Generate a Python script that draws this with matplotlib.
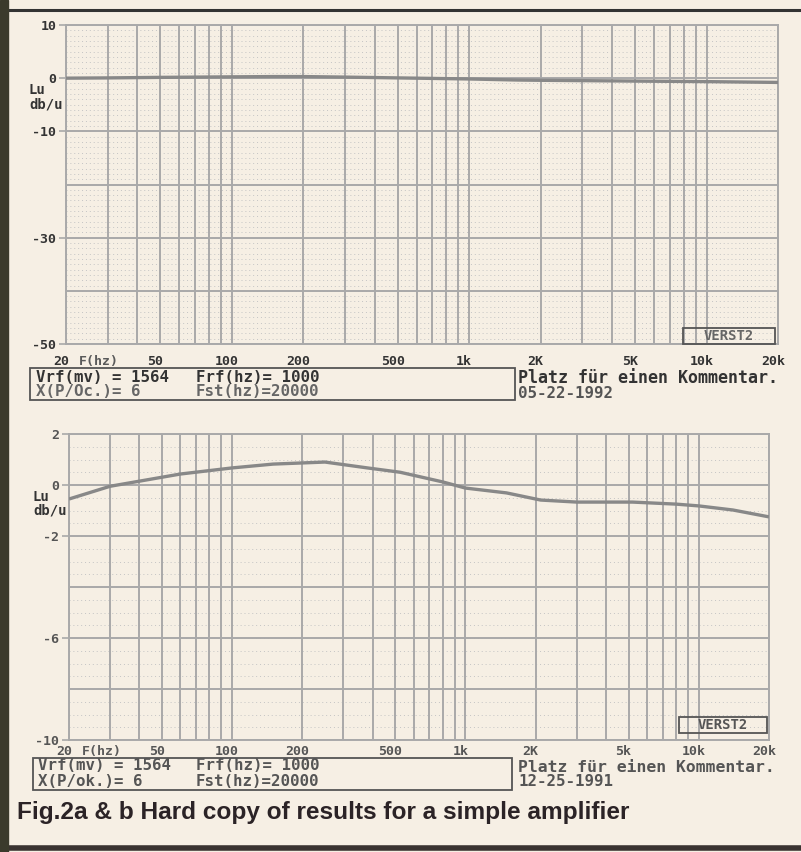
import matplotlib.pyplot as plt
from matplotlib.patches import Rectangle
import matplotlib.transforms as mtransforms

# upper plot (05-22-1992): level vs frequency, range +10..-50 dB
freq_a = [20, 30, 50, 100, 150, 200, 300, 500, 1000, 1600, 2000, 5000, 10000, 20000]
level_a = [0.0, 0.05, 0.15, 0.25, 0.3, 0.3, 0.2, 0.05, -0.15, -0.35, -0.4, -0.55, -0.65, -0.8]

# lower plot (12-25-1991): range +2..-10 dB
freq_b = [20, 30, 60, 100, 150, 250, 380, 525, 800, 1000, 1500, 2100, 3000, 5200, 8000, 10000, 14000, 20000]
level_b = [-0.55, -0.05, 0.43, 0.67, 0.82, 0.9, 0.67, 0.5, 0.12, -0.12, -0.31, -0.59, -0.67, -0.67, -0.75, -0.82, -0.98, -1.25]

xtick_freqs = [20, 50, 100, 200, 500, 1000, 2000, 5000, 10000, 20000]
xlabels_a = ['20', '50', '100', '200', '500', '1k', '2K', '5K', '10k', '20k']
xlabels_b = ['20', '50', '100', '200', '500', '1k', '2K', '5k', '10k', '20k']
ylim_a = (-50, 10)
ylim_b = (-10, 2)
yticks_a = [10, 0, -10, -30, -50]
yticks_b = [2, 0, -2, -6, -10]
ygrid_a = [10, 0, -10, -20, -30, -40, -50]
ygrid_b = [2, 0, -2, -4, -6, -8, -10]

info_a = ['Vrf(mv) = 1564', 'Frf(hz)= 1000', 'X(P/Oc.)= 6', 'Fst(hz)=20000']
info_b = ['Vrf(mv) = 1564', 'Frf(hz)= 1000', 'X(P/ok.)= 6', 'Fst(hz)=20000']
comment = 'Platz für einen Kommentar.'
date_a = '05-22-1992'
date_b = '12-25-1991'
caption = 'Fig.2a & b Hard copy of results for a simple amplifier'

W, H = 801, 852
paper = '#f6efe4'
grid_c = '#a9a9a9'
ink = '#333333'
mono = ['DejaVu Sans Mono']

fig = plt.figure(figsize=(W / 100, H / 100), dpi=100, facecolor=paper)


def px(x0, y0, x1, y1):
    # pixel box (top-left origin) -> figure fraction [l, b, w, h]
    return [x0 / W, 1 - y1 / H, (x1 - x0) / W, (y1 - y0) / H]


def draw_plot(rect, freq, level, ylim, yticks, ygrid, yminor, xlabels, label_y, lab_color):
    ax = fig.add_axes(rect)
    ax.set_facecolor('none')
    ax.set_xscale('log')
    ax.set_xlim(20, 20000)
    ax.set_ylim(*ylim)
    # log grid 20..20k
    for dec in [10, 100, 1000, 10000]:
        for m in range(1, 10):
            f = m * dec
            if 20 <= f <= 20000:
                ax.axvline(f, color=grid_c, lw=1.4, zorder=1)
    for y in ygrid:
        ax.axhline(y, color=grid_c, lw=1.4, zorder=1)
    y = ylim[0]
    while y < ylim[1]:
        ax.axhline(y, color='#c4c4c4', lw=0.7, ls=(0, (1, 3)), zorder=0.5)
        y += yminor
    ax.plot(freq, level, color='#888888', lw=2.4, zorder=3, solid_capstyle='butt')
    for s in ax.spines.values():
        s.set_color(grid_c)
        s.set_linewidth(1.4)
    ax.set_xticks([])
    ax.xaxis.set_minor_locator(plt.NullLocator())
    ax.set_yticks(yticks)
    ax.set_yticklabels([str(v) for v in yticks])
    ax.tick_params(axis='y', length=5, width=1.2, color=grid_c, pad=2, labelsize=9.5,
                   labelcolor=lab_color)
    for t in ax.get_yticklabels():
        t.set_family(mono)
        t.set_fontweight('bold')
    # printer labels sit a little left of their grid line
    shift = ax.get_xaxis_transform() + mtransforms.ScaledTranslation(-0.05, 0, fig.dpi_scale_trans)
    for f, lab in zip(xtick_freqs, xlabels):
        ax.text(f, label_y, lab, transform=shift, ha='center', va='top', family=mono,
                fontweight='bold', fontsize=9.5, color=lab_color)
    ax.text(29, label_y, 'F(hz)', transform=shift, ha='center', va='top',
            family=mono, fontweight='bold', fontsize=9.5, color='#5a5a5a')
    return ax


ax_a = draw_plot(px(66, 25, 778, 344), freq_a, level_a, ylim_a, yticks_a, ygrid_a, 1,
                 xlabels_a, -0.033, ink)
ax_b = draw_plot(px(69, 434, 769, 740), freq_b, level_b, ylim_b, yticks_b, ygrid_b, 0.5,
                 xlabels_b, -0.015, '#555555')


def ftext(x, y, s, **kw):
    kw.setdefault('family', mono)
    kw.setdefault('fontweight', 'bold')
    kw.setdefault('fontsize', 11.3)
    kw.setdefault('color', ink)
    fig.text(x / W, 1 - y / H, s, va='center', **kw)


def frame(x0, y0, x1, y1, lw=1.3, color='#555555'):
    fig.patches.append(Rectangle((x0 / W, 1 - y1 / H), (x1 - x0) / W, (y1 - y0) / H,
                                 transform=fig.transFigure, fill=False, lw=lw,
                                 edgecolor=color, zorder=4))


# y axis name
ftext(29, 90, 'Lu', fontsize=10)
ftext(29, 105, 'db/u', fontsize=10)
ftext(33, 497, 'Lu', fontsize=10)
ftext(33, 511, 'db/u', fontsize=10)

# VERST2 boxes
frame(683, 328, 775, 344)
ftext(729, 336, 'VERST2', ha='center', fontsize=10, color='#666666')
frame(679, 717, 767, 733)
ftext(723, 725, 'VERST2', ha='center', fontsize=10, color='#555555')

# info boxes
frame(30, 368, 515, 400)
ftext(36, 377, info_a[0])
ftext(196, 377, info_a[1])
ftext(36, 392, info_a[2], color='#666666')
ftext(196, 392, info_a[3], color='#666666')
ftext(518, 378, comment, fontsize=12)
ftext(518, 394, date_a, color='#555555')

frame(33, 758, 512, 790)
ftext(38, 766, info_b[0], color='#555555')
ftext(196, 766, info_b[1], color='#555555')
ftext(38, 781, info_b[2], color='#555555')
ftext(196, 781, info_b[3], color='#555555')
ftext(518, 767, comment, color='#555555', fontsize=11.8)
ftext(518, 782, date_b, color='#555555')

# caption
fig.text(17 / W, 1 - 812 / H, caption, va='center', ha='left',
         family=['Liberation Sans'], fontweight='bold',
         fontsize=17.6, color='#2b2326')

# page edges of the scan
fig.patches.append(Rectangle((0, 0), 8 / W, 1, transform=fig.transFigure,
                             color='#3b3a2c', zorder=5))
fig.lines.append(plt.Line2D([8 / W, 1], [1 - 10 / H, 1 - 10 / H], transform=fig.transFigure,
                            color='#333333', lw=2.2))
fig.lines.append(plt.Line2D([0, 1], [1 - 848 / H, 1 - 848 / H], transform=fig.transFigure,
                            color='#3a3330', lw=4))

fig.savefig('out.png', dpi=100, facecolor=paper)
